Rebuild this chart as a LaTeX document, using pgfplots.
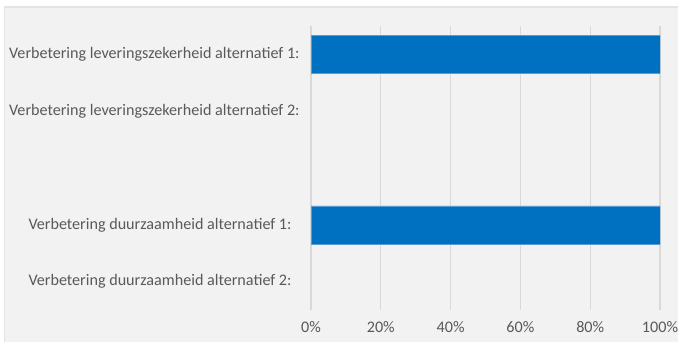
\documentclass[border=0pt]{standalone}
\usepackage{pgfplots}
\pgfplotsset{compat=1.18}
\usepackage{fontspec}
\setmainfont{Carlito}
\definecolor{bg}{HTML}{F2F2F2}
\definecolor{bgedge}{HTML}{E4E4E4}
\definecolor{barblue}{HTML}{0070C0}
\definecolor{baredge}{HTML}{5B9BD5}
\definecolor{gridc}{HTML}{D9D9D9}
\definecolor{txt}{HTML}{595959}
\begin{document}
\begin{tikzpicture}[x=1bp,y=1bp]
\useasboundingbox (0,0) rectangle (678,342);
\fill[white] (0,0) rectangle (678,342);
\fill[bg] (4,0) rectangle (678,335);
\draw[bgedge, line width=1.2bp] (4,335) -- (678,335);
\draw[bgedge, line width=0.8bp] (4,0) -- (4,335);
\begin{axis}[
  at={(311bp,32bp)}, anchor=south west,
  scale only axis, width=349bp, height=284bp,
  xbar, bar width=38bp,
  xmin=0, xmax=100,
  ymin=-0.5, ymax=4.5, y dir=reverse,
  ytick={0,1,3,4},
  yticklabels={Verbetering leveringszekerheid alternatief 1:,
               Verbetering leveringszekerheid alternatief 2:,
               Verbetering duurzaamheid alternatief 1:\kern8bp,
               Verbetering duurzaamheid alternatief 2:\kern8bp},
  xtick={0,20,40,60,80,100},
  xticklabels={0\%,20\%,40\%,60\%,80\%,100\%},
  axis line style={draw=none},
  major tick length=0pt,
  xmajorgrids, grid style={gridc, line width=1.2bp},
  ticklabel style={font=\fontsize{16.2}{19}\selectfont, text=txt},
  yticklabel style={xshift=-8bp},
  xticklabel style={yshift=-8bp},
]
\addplot[fill=barblue, draw=baredge, line width=0.6bp] coordinates {(100,0) (100,3)};
\end{axis}
\end{tikzpicture}
\end{document}
